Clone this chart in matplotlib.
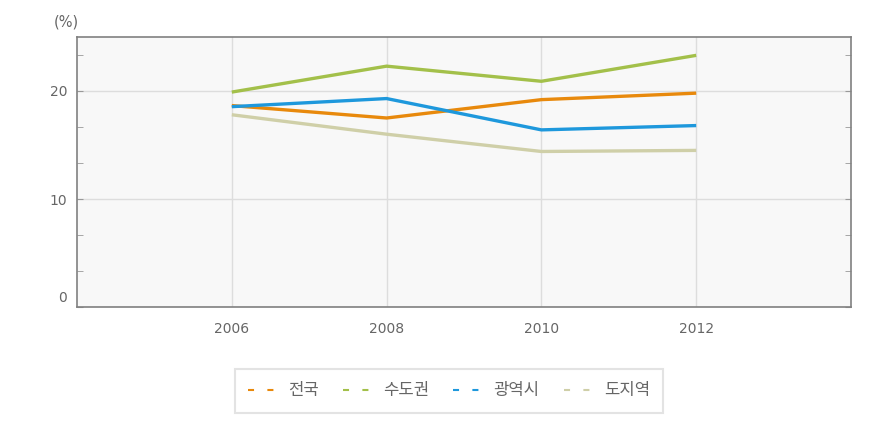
import matplotlib
matplotlib.use("Agg")
import matplotlib.pyplot as plt
import matplotlib.transforms as mtransforms
from matplotlib.lines import Line2D
from matplotlib.ticker import MultipleLocator

plt.rcParams['font.family'] = ['Noto Sans CJK KR', 'DejaVu Sans']

years = [2006, 2008, 2010, 2012]
series_names = ['전국', '수도권', '광역시', '도지역']
nationwide = [18.65, 17.5, 19.2, 19.8]
capital = [19.9, 22.3, 20.9, 23.3]
metro = [18.55, 19.3, 16.4, 16.8]
provinces = [17.8, 16.0, 14.4, 14.5]
colors = ['#E8890C', '#A3C04A', '#1E98DC', '#CFCFA8']

fig = plt.figure(figsize=(8.77, 4.25), dpi=100)
ax = fig.add_axes([77/877, 1-307/425, (851-77)/877, (307-37)/425])
ax.set_facecolor('#F8F8F8')

# draw order: beige, orange, blue, green
for vals, c in zip([provinces, nationwide, metro, capital], [colors[3], colors[0], colors[2], colors[1]]):
    ax.plot(years, vals, color=c, lw=2.4, solid_capstyle='butt', zorder=3)

ax.set_xlim(2004, 2014)
ax.set_ylim(0, 25)
ax.set_xticks(years)
ax.set_yticks([0, 10, 20])
ax.yaxis.set_minor_locator(MultipleLocator(10/3))
ax.grid(True, color='#DDDDDD', lw=1, zorder=0)

for s in ax.spines.values():
    s.set_color('#808080')
    s.set_linewidth(1.2)

tick_font = {'family': 'DejaVu Sans', 'size': 10}
ax.tick_params(axis='y', which='both', direction='in', length=4, color='#999999',
               left=True, right=True, labelcolor='#666666', pad=7)
ax.tick_params(axis='x', length=0, labelcolor='#666666', pad=11)
for lab in ax.get_xticklabels() + ax.get_yticklabels():
    lab.set_fontproperties(tick_font)

# lift the "0" label a little above the bottom edge, as in the reference
zero_label = ax.get_yticklabels()[0]
zero_label.set_transform(zero_label.get_transform() +
                         mtransforms.ScaledTranslation(0, 11/100, fig.dpi_scale_trans))

fig.text(66/877, 1-22/425, '(%)', ha='center', va='center', color='#666666',
         fontfamily='DejaVu Sans', fontsize=10.5)

handles = [Line2D([0], [0], color=c, lw=1.5, linestyle=(0, (2.9, 6.4)), dash_capstyle='butt')
           for c in colors]
leg = fig.legend(handles, series_names, loc='center', ncol=4,
                 bbox_to_anchor=(449/877, 1-391/425), frameon=True, fancybox=False,
                 fontsize=12, handlelength=1.6, columnspacing=1.45, handletextpad=0.8,
                 borderpad=0.8, labelcolor='#666666')
leg.get_frame().set_edgecolor('#DDDDDD')
leg.get_frame().set_linewidth(1.5)

fig.savefig('out.png', dpi=100)
